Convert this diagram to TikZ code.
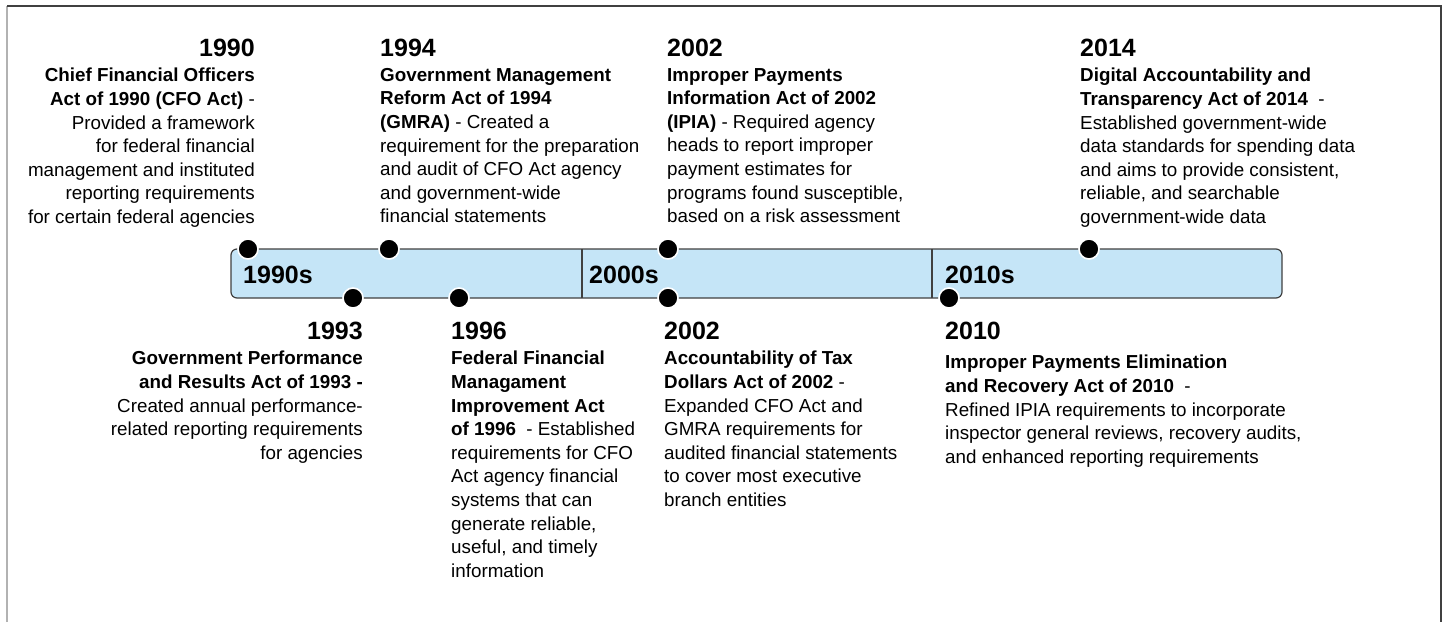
\documentclass[tikz,border=0pt]{standalone}
\usepackage{fontspec}
\setmainfont{Liberation Sans}
\usepackage{tikz}
\definecolor{barblue}{HTML}{C5E5F7}
\definecolor{barline}{HTML}{404040}
\tikzset{
	evdot/.style={circle, fill=black, draw=white, line width=1.6pt, inner sep=0pt, minimum size=20pt},
	yearlbl/.style={inner sep=0pt, font=\fontsize{25}{30}\selectfont\bfseries},
	decadelbl/.style={inner sep=0pt, anchor=west, font=\fontsize{25}{30}\selectfont\bfseries},
	actlbl/.style={inner sep=0pt, font=\fontsize{18.8}{23.6}\selectfont},
}

\begin{document}
\begin{tikzpicture}[x=1pt,y=-1pt]
		\useasboundingbox (0,0) rectangle (1448,622);
		\draw[black!30, line width=1.2pt] (7,622) -- (7,6);
		\draw[black!75, line width=2pt] (7,6) -- (1441,6) -- (1441,622);

		\node (bar) at (756.5,273.5)[draw=barline, line width=1.2pt, fill=barblue, rounded corners=6pt, minimum width=1051pt, minimum height=49pt]{};
		\draw[barline, line width=1.2pt] (582,249) -- (582,298);
		\draw[barline, line width=1.2pt] (932,249) -- (932,298);

		\node (s1990) at (243,275)[decadelbl]{1990s};
		\node (s2000) at (589,275)[decadelbl]{2000s};
		\node (s2010) at (945,275)[decadelbl]{2010s};

		\node (d1990) at (248,249)[evdot]{};
		\node (d1994) at (389,249)[evdot]{};
		\node (d2002a) at (668,249)[evdot]{};
		\node (d2014) at (1089,249)[evdot]{};
		\node (d1993) at (353,298)[evdot]{};
		\node (d1996) at (459,298)[evdot]{};
		\node (d2002b) at (668,298)[evdot]{};
		\node (d2010) at (949,298)[evdot]{};

		\node (y1990) at (255,56)[yearlbl, anchor=base east]{1990};
		\node (t1990) at (255,68)[actlbl, anchor=north east, align=right]{\textbf{Chief Financial Officers}\\ \textbf{Act of 1990 (CFO Act)} -\\ Provided a framework\\ for federal financial\\ management and instituted\\ reporting requirements\\ for certain federal agencies};

		\node (y1994) at (380,56)[yearlbl, anchor=base west]{1994};
		\node (t1994) at (380,68)[actlbl, anchor=north west, align=left]{\textbf{Government Management}\\ \textbf{Reform Act of 1994}\\ \textbf{(GMRA)} - Created a\\ requirement for the preparation\\ and audit of CFO Act agency\\ and government-wide\\ financial statements};

		\node (y2002a) at (667,56)[yearlbl, anchor=base west]{2002};
		\node (t2002a) at (667,68)[actlbl, anchor=north west, align=left]{\textbf{Improper Payments}\\ \textbf{Information Act of 2002}\\ \textbf{(IPIA)} - Required agency\\ heads to report improper\\ payment estimates for\\ programs found susceptible,\\ based on a risk assessment};

		\node (y2014) at (1080,56)[yearlbl, anchor=base west]{2014};
		\node (t2014) at (1080,68)[actlbl, anchor=north west, align=left]{\textbf{Digital Accountability and}\\ \textbf{Transparency Act of 2014} \ -\\ Established government-wide\\ data standards for spending data\\ and aims to provide consistent,\\ reliable, and searchable\\ government-wide data};

		\node (y1993) at (363,339)[yearlbl, anchor=base east]{1993};
		\node (t1993) at (363,351)[actlbl, anchor=north east, align=right]{\textbf{Government Performance}\\ \textbf{and Results Act of 1993 -}\\ Created annual performance-\\ related reporting requirements\\ for agencies};

		\node (y1996) at (451,339)[yearlbl, anchor=base west]{1996};
		\node (t1996) at (451,351)[actlbl, anchor=north west, align=left]{\textbf{Federal Financial}\\ \textbf{Managament}\\ \textbf{Improvement Act}\\ \textbf{of 1996} \ - Established\\ requirements for CFO\\ Act agency financial\\ systems that can\\ generate reliable,\\ useful, and timely\\ information};

		\node (y2002b) at (664,339)[yearlbl, anchor=base west]{2002};
		\node (t2002b) at (664,351)[actlbl, anchor=north west, align=left]{\textbf{Accountability of Tax}\\ \textbf{Dollars Act of 2002} -\\ Expanded CFO Act and\\ GMRA requirements for\\ audited financial statements\\ to cover most executive\\ branch entities};

		\node (y2010) at (945,339)[yearlbl, anchor=base west]{2010};
		\node (t2010) at (945,355)[actlbl, anchor=north west, align=left]{\textbf{Improper Payments Elimination}\\ \textbf{and Recovery Act of 2010} \ -\\ Refined IPIA requirements to incorporate\\ inspector general reviews, recovery audits,\\ and enhanced reporting requirements};
\end{tikzpicture}
\end{document}
